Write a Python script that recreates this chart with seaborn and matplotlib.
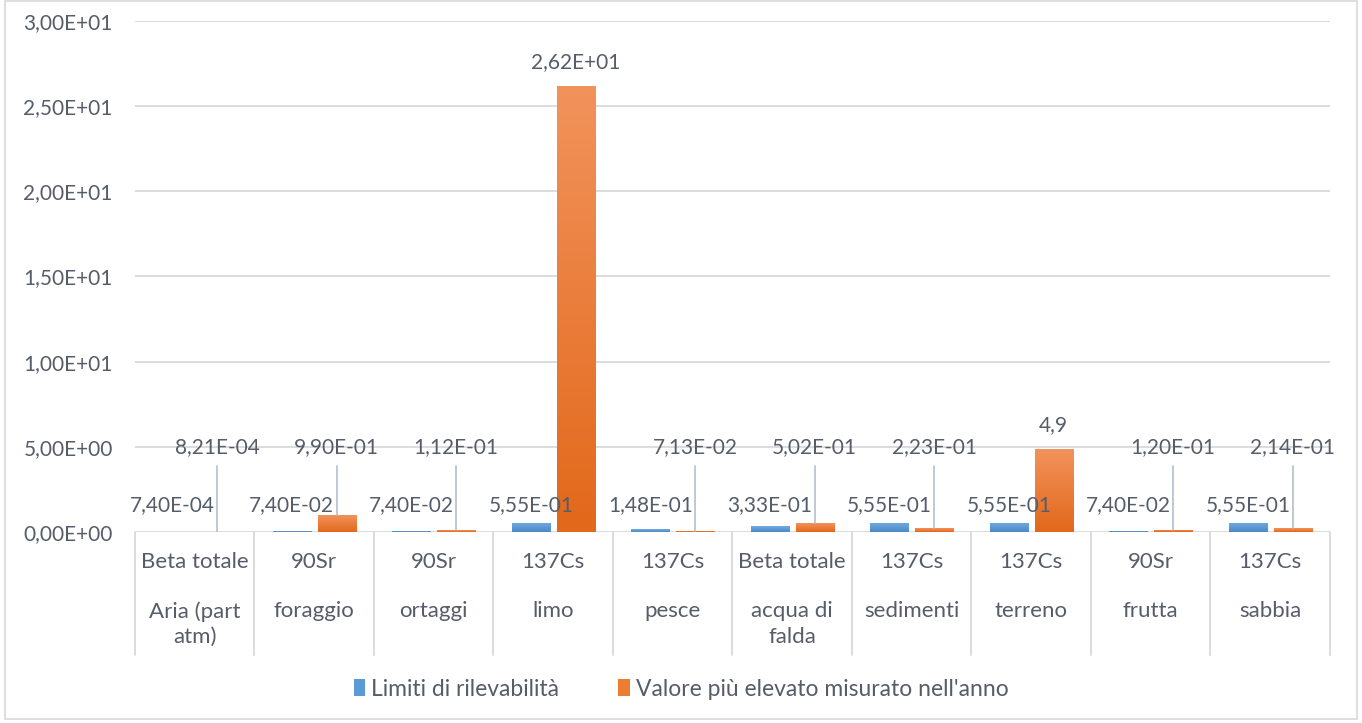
import numpy as np
import pandas as pd
import matplotlib.pyplot as plt
import matplotlib.transforms as mtransforms
from matplotlib.colors import LinearSegmentedColormap
from matplotlib.patches import Patch, Rectangle
from matplotlib.ticker import FuncFormatter
import seaborn as sns

# data
nuclide = ['Beta totale', '90Sr', '90Sr', '137Cs', '137Cs',
           'Beta totale', '137Cs', '137Cs', '90Sr', '137Cs']
matrice = ['Aria (part\natm)', 'foraggio', 'ortaggi', 'limo', 'pesce',
           'acqua di\nfalda', 'sedimenti', 'terreno', 'frutta', 'sabbia']
limiti = [7.40e-4, 7.40e-2, 7.40e-2, 5.55e-1, 1.48e-1,
          3.33e-1, 5.55e-1, 5.55e-1, 7.40e-2, 5.55e-1]
valore_max = [8.21e-4, 9.90e-1, 1.12e-1, 2.62e1, 7.13e-2,
              5.02e-1, 2.23e-1, 4.9, 1.20e-1, 2.14e-1]
etichette_max = ['8,21E-04', '9,90E-01', '1,12E-01', '2,62E+01', '7,13E-02',
                 '5,02E-01', '2,23E-01', '4,9', '1,20E-01', '2,14E-01']
serie = ['Limiti di rilevabilità', "Valore più elevato misurato nell'anno"]
y_ticks = [0, 5, 10, 15, 20, 25, 30]

df = pd.DataFrame({
    'matrice': matrice * 2,
    'valore': limiti + valore_max,
    'serie': [serie[0]] * len(matrice) + [serie[1]] * len(matrice),
})

sns.set_theme(style='white')
plt.rcParams['font.family'] = ['Lato', 'DejaVu Sans']
txt = '#555d69'
grid_c = '#d9d9d9'
blue = '#5b9bd5'
orange = '#ed7d31'
fs_num = 15
fs_txt = 16

def sci_it(v, pos=None):
    return f'{v:.2E}'.replace('.', ',')

fig = plt.figure(figsize=(13.62, 7.23), dpi=100)
ax = fig.add_axes([0.0991, 0.2642, 0.8774, 0.7068])

sns.barplot(data=df, x='matrice', y='valore', hue='serie', order=matrice,
            hue_order=serie, palette=[blue, orange], saturation=1,
            width=0.75, gap=0.15, errorbar=None, legend=False, ax=ax)

# Excel-like vertical gradient on each bar
cmaps = [LinearSegmentedColormap.from_list('b', ['#4a89c8', '#72abe0']),
         LinearSegmentedColormap.from_list('o', ['#e2681a', '#f2935c'])]
grad = np.linspace(0, 1, 256).reshape(-1, 1)
for cont, cm in zip(ax.containers, cmaps):
    for bar in cont:
        x0, w, h = bar.get_x(), bar.get_width(), bar.get_height()
        im = ax.imshow(grad, extent=[x0, x0 + w, 0, h], aspect='auto',
                       cmap=cm, origin='lower', zorder=2, interpolation='bilinear')
        im.set_clip_path(bar)
        bar.set_facecolor('none')
        bar.set_linewidth(0)

ax.set_xlim(-0.5, len(matrice) - 0.5)
ax.set_ylim(0, 30)
ax.set_yticks(y_ticks)
ax.yaxis.set_major_formatter(FuncFormatter(sci_it))
ax.tick_params(axis='y', length=0, pad=16, labelsize=fs_num, labelcolor=txt)
ax.set_xticks([])
ax.set_xlabel('')
ax.set_ylabel('')
ax.grid(axis='y', color=grid_c, lw=1.3)
ax.set_axisbelow(True)
for s in ax.spines.values():
    s.set_visible(False)

# data labels
blue_bars, orange_bars = ax.containers[0], ax.containers[1]
for bar, v in zip(blue_bars, limiti):
    ax.text(bar.get_x() + bar.get_width() / 2, 1.6, sci_it(v),
            ha='center', va='center', fontsize=fs_num, color=txt, zorder=4)
for bar, v, lab in zip(orange_bars, valore_max, etichette_max):
    cx = bar.get_x() + bar.get_width() / 2
    if v > 3:
        ax.annotate(lab, (cx, v), xytext=(0, 17), textcoords='offset points',
                    ha='center', va='center', fontsize=fs_num, color=txt)
    else:
        ax.text(cx, 5.0, lab, ha='center', va='center', fontsize=fs_num,
                color=txt, zorder=4)
        ax.plot([cx, cx], [v, 3.9], color='#b4bfcc', lw=1.2, zorder=3)

# two-level category axis
trans = mtransforms.blended_transform_factory(ax.transData, ax.transAxes)
for i in range(len(matrice) + 1):
    ax.plot([i - 0.5, i - 0.5], [0, -0.241], color=grid_c, lw=1.3,
            transform=trans, clip_on=False)
for i, (n, m) in enumerate(zip(nuclide, matrice)):
    ax.text(i, -0.059, n, ha='center', va='center', fontsize=fs_txt, color=txt,
            transform=trans)
    ax.text(i, -0.136, m, ha='center', va='top', fontsize=fs_txt, color=txt,
            transform=trans, linespacing=1.32)

handles = [Patch(facecolor=blue, edgecolor='none'),
           Patch(facecolor=orange, edgecolor='none')]
leg = fig.legend(handles, serie, loc='center', bbox_to_anchor=(0.5, 1 - 689 / 723),
                 ncol=2, frameon=False, fontsize=16.5, handlelength=0.5,
                 handleheight=0.8, handletextpad=0.25, columnspacing=2.6)
for t in leg.get_texts():
    t.set_color(txt)

fig.patches.append(Rectangle((0.004, 0.005), 0.992, 0.994, transform=fig.transFigure,
                             fill=False, edgecolor=grid_c, lw=1.2))

fig.savefig('out.png', dpi=100)
